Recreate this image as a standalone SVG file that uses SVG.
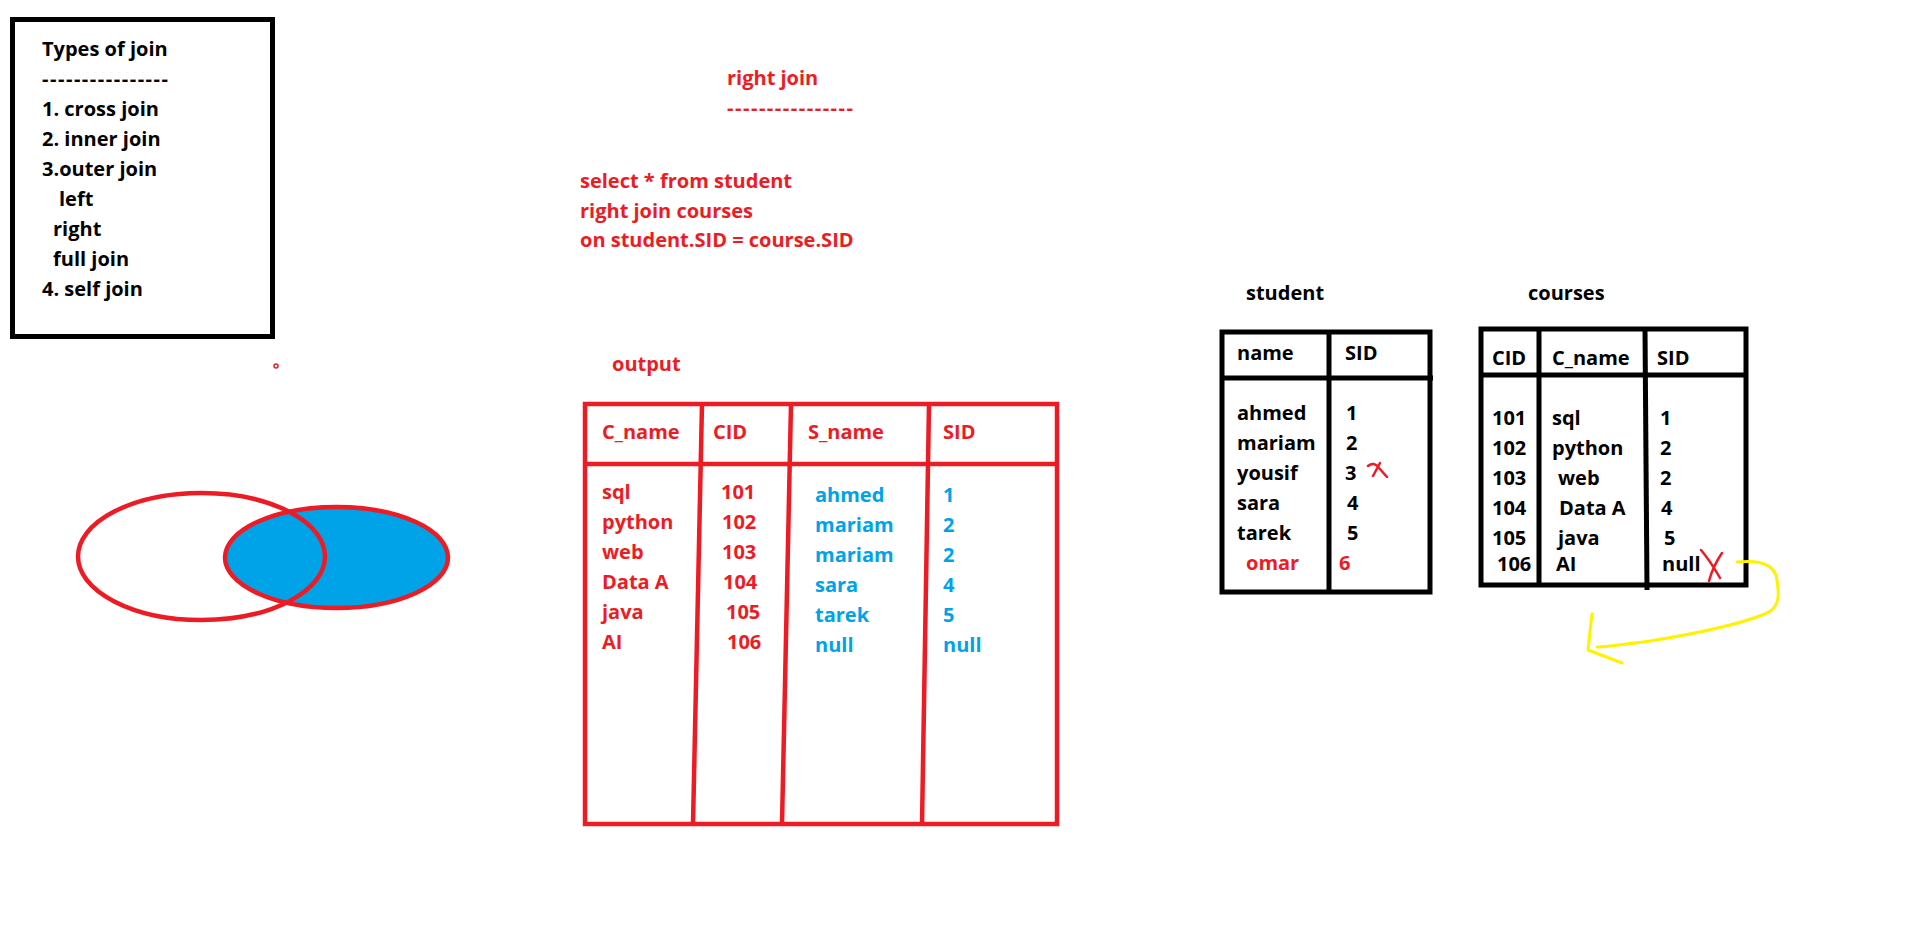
<svg xmlns="http://www.w3.org/2000/svg" width="1914" height="926" viewBox="0 0 1914 926">
<style>
text{font-family:"Open Sans","Noto Sans","Liberation Sans",sans-serif;font-weight:bold;font-size:20px}
.k{fill:#000}
.r{fill:#ed1c24}
.b{fill:#00a2e8}
.bk{fill:none;stroke:#000;stroke-width:5}
.rd{fill:none;stroke:#ed1c24;stroke-width:4.5}
</style>
<rect width="1914" height="926" fill="#fff"/>
<g id="types-box">
<rect class="bk" x="12.5" y="19.5" width="260" height="317"/>
<text class="k" x="42" y="56">Types of join</text>
<text class="k" x="42" y="86" textLength="126" lengthAdjust="spacing">----------------</text>
<text class="k" x="42" y="116">1. cross join</text>
<text class="k" x="42" y="146">2. inner join</text>
<text class="k" x="42" y="176">3.outer join</text>
<text class="k" x="59" y="206">left</text>
<text class="k" x="53" y="236">right</text>
<text class="k" x="53" y="266">full join</text>
<text class="k" x="42" y="296">4. self join</text>
</g>
<g id="dot"><circle cx="276" cy="366" r="2" fill="none" stroke="#ed1c24" stroke-width="1.5"/></g>
<g id="venn">
<ellipse cx="336.5" cy="557.5" rx="111.5" ry="50.5" fill="#00a2e8" stroke="#ed1c24" stroke-width="4.5"/>
<ellipse cx="201.5" cy="556.5" rx="123.5" ry="63.5" fill="none" stroke="#ed1c24" stroke-width="4.5"/>
</g>
<g id="query">
<text class="r" x="727" y="85">right join</text>
<text class="r" x="727" y="115" textLength="126" lengthAdjust="spacing">----------------</text>
<text class="r" x="580" y="188">select * from student</text>
<text class="r" x="580" y="218">right join courses</text>
<text class="r" x="580" y="247">on student.SID = course.SID</text>
</g>
<g id="output-table">
<text class="r" x="612" y="371">output</text>
<rect class="rd" x="585" y="404" width="472" height="420"/>
<line class="rd" x1="585" y1="464" x2="1057" y2="464"/>
<line class="rd" x1="702" y1="404" x2="693" y2="824"/>
<line class="rd" x1="791" y1="404" x2="782" y2="824"/>
<line class="rd" x1="929" y1="404" x2="922" y2="824"/>
<text class="r" x="602" y="439">C_name</text>
<text class="r" x="713" y="439">CID</text>
<text class="r" x="808" y="439">S_name</text>
<text class="r" x="943" y="439">SID</text>
<text class="r" x="602" y="499">sql</text>
<text class="r" x="602" y="529">python</text>
<text class="r" x="602" y="559">web</text>
<text class="r" x="602" y="589">Data A</text>
<text class="r" x="602" y="619">java</text>
<text class="r" x="602" y="649">AI</text>
<text class="r" x="721" y="499">101</text>
<text class="r" x="722" y="529">102</text>
<text class="r" x="722" y="559">103</text>
<text class="r" x="723" y="589">104</text>
<text class="r" x="726" y="619">105</text>
<text class="r" x="727" y="649">106</text>
<text class="b" x="815" y="502">ahmed</text>
<text class="b" x="815" y="532">mariam</text>
<text class="b" x="815" y="562">mariam</text>
<text class="b" x="815" y="592">sara</text>
<text class="b" x="815" y="622">tarek</text>
<text class="b" x="815" y="652">null</text>
<text class="b" x="943" y="502">1</text>
<text class="b" x="943" y="532">2</text>
<text class="b" x="943" y="562">2</text>
<text class="b" x="943" y="592">4</text>
<text class="b" x="943" y="622">5</text>
<text class="b" x="943" y="652">null</text>
</g>
<g id="student-table">
<text class="k" x="1246" y="300">student</text>
<rect class="bk" x="1222" y="332" width="208" height="260"/>
<line class="bk" x1="1222" y1="378" x2="1433" y2="378"/>
<line class="bk" x1="1329" y1="332" x2="1329" y2="592"/>
<text class="k" x="1237" y="360">name</text>
<text class="k" x="1345" y="360">SID</text>
<text class="k" x="1237" y="420">ahmed</text>
<text class="k" x="1237" y="450">mariam</text>
<text class="k" x="1237" y="480">yousif</text>
<text class="k" x="1237" y="510">sara</text>
<text class="k" x="1237" y="540">tarek</text>
<text class="r" x="1246" y="570">omar</text>
<text class="k" x="1346" y="420">1</text>
<text class="k" x="1346" y="450">2</text>
<text class="k" x="1345" y="480">3</text>
<text class="k" x="1347" y="510">4</text>
<text class="k" x="1347" y="540">5</text>
<text class="r" x="1339" y="570">6</text>
<path d="M1368,466 Q1374,461 1379,468 L1387,477 M1380,463 L1373,476" fill="none" stroke="#ed1c24" stroke-width="2.5" stroke-linecap="round"/>
</g>
<g id="courses-table">
<text class="k" x="1528" y="300">courses</text>
<rect class="bk" x="1481" y="329" width="265" height="256"/>
<line class="bk" x1="1481" y1="375" x2="1746" y2="375"/>
<line class="bk" x1="1539" y1="329" x2="1539" y2="585"/>
<line class="bk" x1="1645" y1="329" x2="1647" y2="590"/>
<text class="k" x="1492" y="365">CID</text>
<text class="k" x="1552" y="365">C_name</text>
<text class="k" x="1657" y="365">SID</text>
<text class="k" x="1492" y="425">101</text>
<text class="k" x="1492" y="455">102</text>
<text class="k" x="1492" y="485">103</text>
<text class="k" x="1492" y="515">104</text>
<text class="k" x="1492" y="545">105</text>
<text class="k" x="1497" y="571">106</text>
<text class="k" x="1552" y="425">sql</text>
<text class="k" x="1552" y="455">python</text>
<text class="k" x="1558" y="485">web</text>
<text class="k" x="1559" y="515">Data A</text>
<text class="k" x="1558" y="545">java</text>
<text class="k" x="1556" y="571">AI</text>
<text class="k" x="1660" y="425">1</text>
<text class="k" x="1660" y="455">2</text>
<text class="k" x="1660" y="485">2</text>
<text class="k" x="1661" y="515">4</text>
<text class="k" x="1664" y="545">5</text>
<text class="k" x="1662" y="571">null</text>
<path d="M1701,550 Q1711,562 1720,578 M1722,553 Q1713,566 1709,581" fill="none" stroke="#ed1c24" stroke-width="2.5" stroke-linecap="round"/>
</g>
<g id="connectors">
<path d="M1737,562 C1750,561 1770,560 1776,575 C1780,595 1780,608 1765,614 C1740,624 1700,633 1650,641 C1620,645 1605,647 1597,647" fill="none" stroke="#fff200" stroke-width="3" stroke-linecap="round"/>
<path d="M1592,614 L1588,650 L1622,663" fill="none" stroke="#fff200" stroke-width="3" stroke-linecap="round" stroke-linejoin="round"/>
</g>
</svg>
